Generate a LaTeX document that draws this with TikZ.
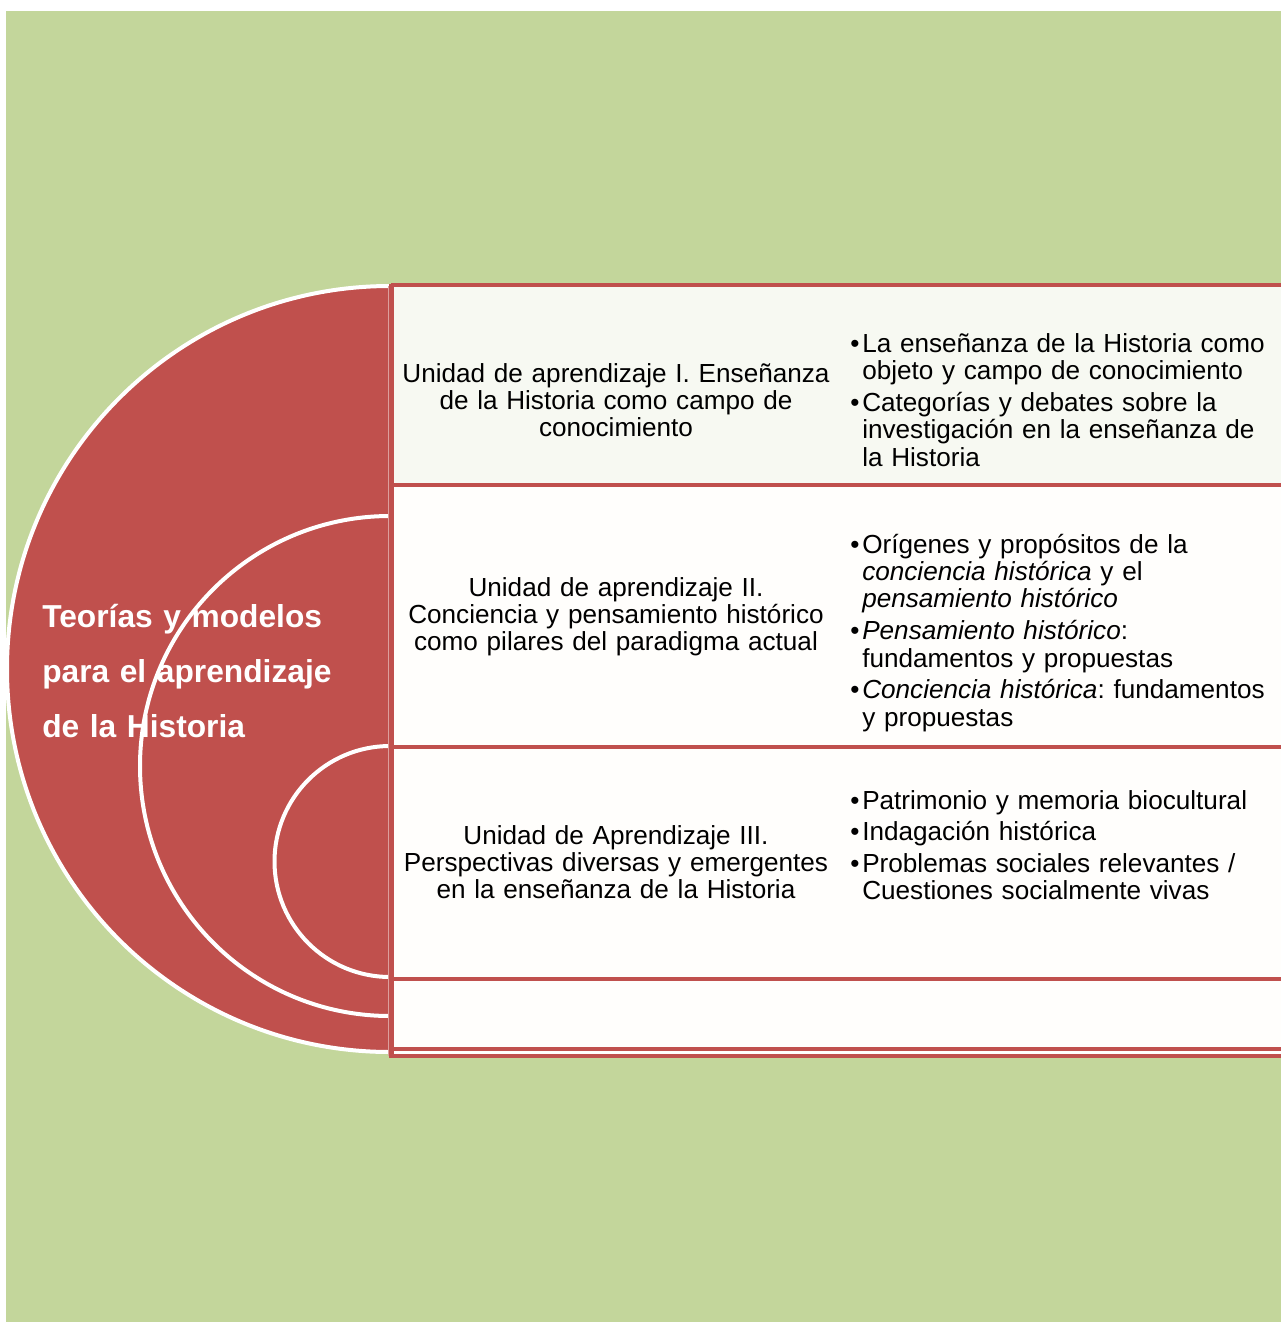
\documentclass[tikz,border=0pt]{standalone}
\usepackage{fontspec}
\setmainfont{Liberation Sans}
\frenchspacing
\definecolor{bggreen}{HTML}{C3D69B}
\definecolor{hred}{HTML}{C0504D}
\definecolor{pale}{HTML}{F7F9F2}
\definecolor{paper}{HTML}{FFFEFC}
\newcommand\nl{\hfil\break}
\newcommand\bul[1]{\hangindent=9pt\hangafter=1\noindent\makebox[9pt][l]{•}#1\par\vspace{3.2pt}}
\tikzset{
  disc/.style={fill=hred},
  rim/.style={draw=white,line width=3pt},
  band/.style={draw=hred,line width=3.6pt},
  unit/.style={anchor=base,text width=330pt,align=center,inner sep=0pt,
    font=\fontsize{19.6}{20.6}\selectfont\frenchspacing},
  topics/.style={anchor=base west,text width=330pt,align=left,inner sep=0pt,
    font=\fontsize{19.6}{20.6}\selectfont\frenchspacing},
  title/.style={anchor=base west,text width=260pt,align=left,inner sep=0pt,text=white,
    font=\fontsize{23.8}{41.3}\selectfont\bfseries}
}
\begin{document}
\begin{tikzpicture}[x=0.75pt,y=0.75pt]
\useasboundingbox (0,0) rectangle (1281,-1322);
\fill[white] (0,0) rectangle (1281,-1322);
\fill[bggreen] (6,-11) rectangle (1281,-1322);
\begin{scope}
\clip (0,0) rectangle (1281,-1322);
% half discs
\fill[disc] (390,-286) arc[start angle=90,end angle=270,radius=383] -- cycle;
\draw[rim] (390,-286) arc[start angle=90,end angle=270,radius=383];
\fill[disc] (390,-516) arc[start angle=90,end angle=270,radius=250] -- cycle;
\draw[rim] (390,-516) arc[start angle=90,end angle=270,radius=250];
\fill[disc] (390,-746) arc[start angle=90,end angle=270,radius=115.5] -- cycle;
\draw[rim] (390,-746) arc[start angle=90,end angle=270,radius=115.5];
% boxes
\fill[pale] (390,-285) rectangle (1290,-485);
\fill[paper] (390,-485) rectangle (1290,-1056);
\draw[band] (391,-285) -- (1290,-285);
\draw[band] (391,-485) -- (1290,-485);
\draw[band] (391,-747) -- (1290,-747);
\draw[band] (391,-979) -- (1290,-979);
\draw[band] (391,-1049) -- (1290,-1049);
\draw[band] (391,-1056) -- (1290,-1056);
\draw[draw=white,line width=0.9pt] (394,-1052.5) -- (1290,-1052.5);
\draw[band] (391.5,-283.5) -- (391.5,-1058);
\draw[draw=hred!55!white,line width=0.8pt] (388.5,-286) -- (388.5,-1056);
\end{scope}
% title
\node[title] (t) at (42,-627) {Teorías y modelos\\para el aprendizaje\\de la Historia};
% unit texts
\node[unit] (u1) at (616,-382) {Unidad de aprendizaje I. Enseñanza\\de la Historia como campo de\\conocimiento};
\node[unit] (u2) at (616,-596) {Unidad de aprendizaje II.\\Conciencia y pensamiento histórico\\como pilares del paradigma actual};
\node[unit] (u3) at (616,-844) {Unidad de Aprendizaje III.\\Perspectivas diversas y emergentes\\en la enseñanza de la Historia};
% topics
\node[topics] (p1) at (850,-352) {%
\bul{La enseñanza de la Historia como\nl objeto y campo de conocimiento}%
\bul{Categorías y debates sobre la\nl investigación en la enseñanza de\nl la Historia}};
\node[topics] (p2) at (850,-553) {%
\bul{Orígenes y propósitos de la\nl \textit{conciencia histórica} y el\nl \textit{pensamiento histórico}}%
\bul{\textit{Pensamiento histórico}:\nl fundamentos y propuestas}%
\bul{\textit{Conciencia histórica}: fundamentos\nl y propuestas}};
\node[topics] (p3) at (850,-809) {%
\bul{Patrimonio y memoria biocultural}%
\bul{Indagación histórica}%
\bul{Problemas sociales relevantes /\nl Cuestiones socialmente vivas}};
\end{tikzpicture}
\end{document}
